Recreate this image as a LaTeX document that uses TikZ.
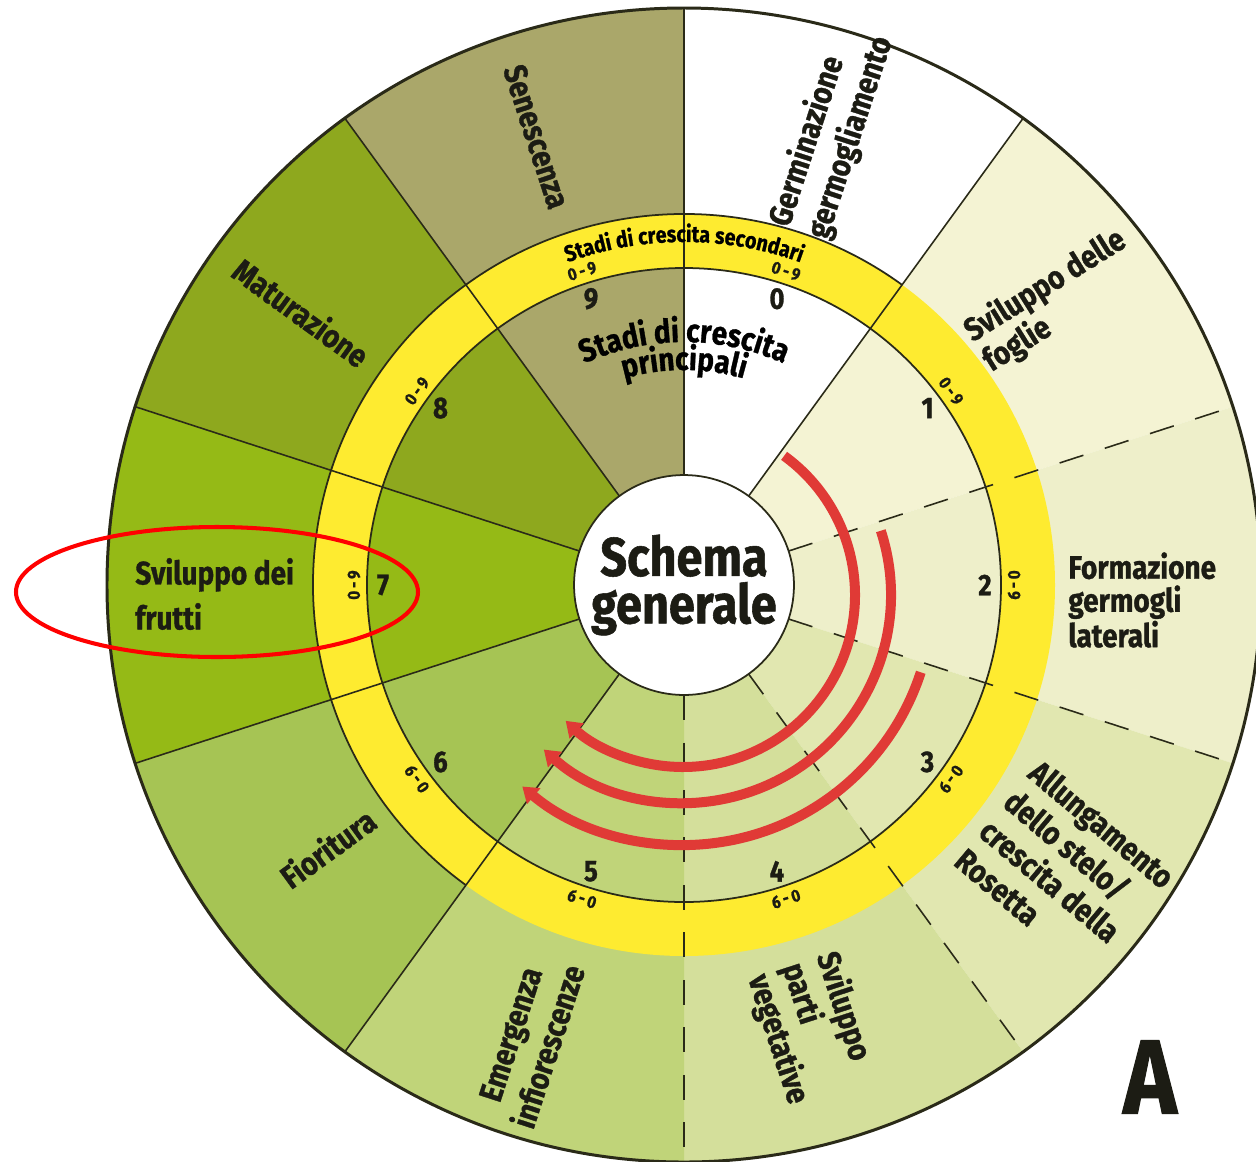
\documentclass[tikz,border=0pt]{standalone}
\usepackage{fontspec}
\setmainfont{Fira Sans}[FakeStretch=0.86,BoldFeatures={FakeBold=1}]
\usetikzlibrary{arrows.meta,decorations.text}
\definecolor{colgerm}{HTML}{FFFFFF}
\definecolor{colleaf}{HTML}{F4F3D3}
\definecolor{colshoot}{HTML}{EEEFCA}
\definecolor{colstem}{HTML}{E1E7B0}
\definecolor{colveg}{HTML}{D4DF9B}
\definecolor{colinflo}{HTML}{C0D479}
\definecolor{colflower}{HTML}{A6C454}
\definecolor{colfruit}{HTML}{95BA16}
\definecolor{colripe}{HTML}{8EA81E}
\definecolor{colsenes}{HTML}{AAA76A}
\definecolor{ringyellow}{HTML}{FEEB30}
\definecolor{inkline}{HTML}{2A2A18}
\definecolor{inktext}{HTML}{1C1C14}
\definecolor{loopred}{HTML}{E03A36}
\begin{document}
\begin{tikzpicture}[x=0.02cm,y=0.02cm,
	spoke/.style={draw=inkline,line width=0.9pt},
	dashspoke/.style={spoke,dash pattern=on 0.5cm off 0.45cm},
	phase/.style={font=\bfseries\fontsize{18.5}{#1}\selectfont,text=inktext,inner sep=0pt,align=left},
	phase/.default=22,
	stagenum/.style={font=\bfseries\fontsize{17}{19}\selectfont,text=inktext,inner sep=0pt},
	subrange/.style={font=\bfseries\fontsize{10}{11}\selectfont,text=inktext,inner sep=0pt},
	hubdisc/.style={circle,draw=inkline,line width=1pt,fill=white,minimum size=4.4cm,inner sep=0pt,align=center,font=\bfseries\fontsize{31}{27}\selectfont,text=inktext},
	redloop/.style={draw=loopred,line width=0.2cm,-{Triangle[width=0.4cm,length=0.3cm]}}]
	\useasboundingbox[fill=white] (-684,-576) rectangle (572,585);
	\foreach \i/\col in {0/colgerm,1/colleaf,2/colshoot,3/colstem,4/colveg,5/colinflo,6/colflower,7/colfruit,8/colripe,9/colsenes}
		\fill[\col] (0,0) -- ({90-36*\i}:577) arc[start angle=90-36*\i,end angle=54-36*\i,radius=577] -- cycle;
	\fill[ringyellow,even odd rule] (0,0) circle[radius=371] circle[radius=317];
	\draw[inkline,line width=1pt] (0,0) circle[radius=317];
	\draw[inkline,line width=1pt] (54:371) arc[start angle=54,end angle=234,radius=371];
	\foreach \a in {90,54,126,162,198,234}
		\draw[spoke] (\a:110) -- (\a:577);
	\foreach \a in {18,-18,-54,-90}
		\draw[dashspoke] (\a:110) -- (\a:577);
	\draw[inkline,line width=1.7pt] (0,0) circle[radius=577];
	\node[hubdisc] (hub) at (0,0) {Schema\\generale};
	\foreach \i in {0,...,9}
		\node[stagenum] (num\i) at ({72-36*\i}:301) {\i};
	\foreach \i in {0,...,9}
		\node[subrange,rotate={-18-36*\i}] (sub\i) at ({72-36*\i}:330) {0\,-\,9};
	\path[decorate,decoration={text along path,text align=center,text={|\bfseries\fontsize{13}{15}\selectfont|Stadi di crescita secondari}}] (160:343) arc[start angle=160,end angle=20,radius=343];
	\path[decorate,decoration={text along path,text align=center,text={|\bfseries\fontsize{18.5}{20}\selectfont|Stadi di crescita}}] (150:243) arc[start angle=150,end angle=30,radius=243];
	\path[decorate,decoration={text along path,text align=center,text={|\bfseries\fontsize{18.5}{20}\selectfont|principali}}] (150:215) arc[start angle=150,end angle=30,radius=215];
	\node[phase=22.8,rotate=72] (germ) at (72:477) {Germinazione\\germogliamento};
	\node[phase=20,rotate=32] (leaf) at (37.5:467) {Sviluppo delle\\foglie};
	\node[phase=18.8,anchor=west] (shoot) at (384,-15) {Formazione\\germogli\\laterali};
	\node[phase=21.8,rotate=-40] (stem) at (381,-283) {Allungamento\\dello stelo/\\crescita della\\Rosetta};
	\node[phase=20.5,rotate=-72] (veg) at (128,-443) {Sviluppo\\parti\\vegetative};
	\node[phase=22.8,rotate=72,align=center] (inflo) at (251.3:481) {Emergenza\\infiorescenze};
	\node[phase,rotate=36] (flower) at (216.4:443) {Fioritura};
	\node[phase=25.6,anchor=west] (fruit) at (-549,-9) {Sviluppo dei\\frutti};
	\node[phase,rotate=-36] (ripe) at (144.5:470) {Maturazione};
	\node[phase,rotate=-72] (senes) at (108.2:472) {Senescenza};
	\coordinate (swirl) at (-1,-10);
	\draw[redloop] (swirl) ++(54:172) arc[start angle=54,end angle=-133,radius=172];
	\draw[redloop] (swirl) ++(18:208) arc[start angle=18,end angle=-132,radius=208];
	\draw[redloop] (swirl) ++(-18:250) arc[start angle=-18,end angle=-130,radius=250];
	\draw[red,line width=2.3pt] (-467,-7) ellipse[x radius=201,y radius=65];
	\node[font=\bfseries\fontsize{60}{60}\selectfont,text=inktext,inner sep=0pt] (panel) at (466,-492) {A};
\end{tikzpicture}
\end{document}
